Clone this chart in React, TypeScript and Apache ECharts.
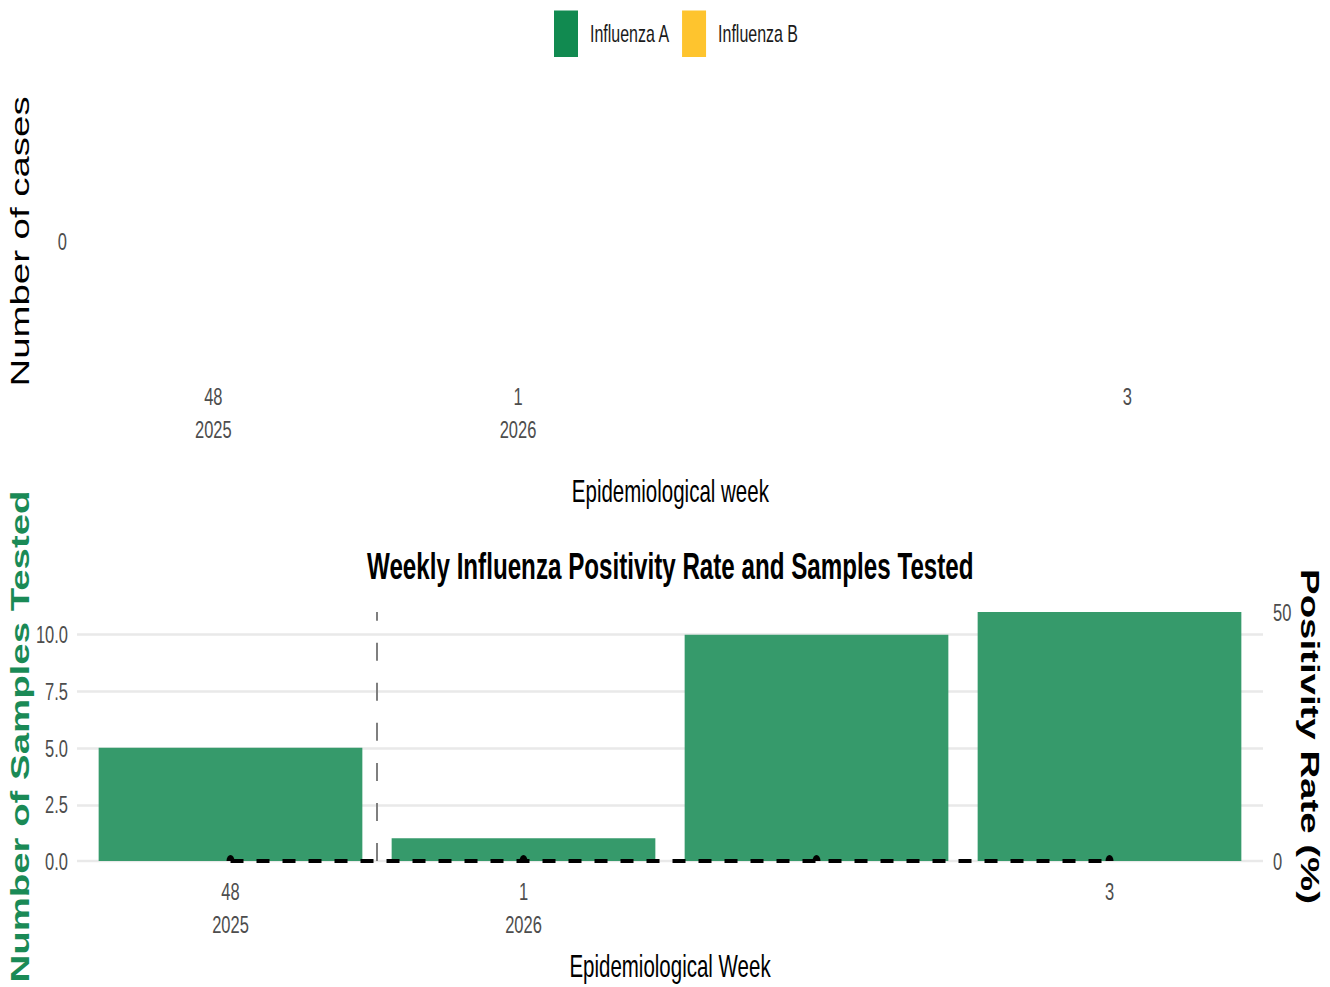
import React, { useEffect, useRef } from "react";
import * as echarts from "echarts";

const weeks = ["48", "1", "2", "3"];
const tickLabels = ["48\n2025", "1\n2026", "", "3"];
const influenzaA = [0, 0, 0, 0];
const influenzaB = [0, 0, 0, 0];
const samplesTested = [5, 1, 10, 11];
const positivityRate = [0, 0, 0, 0];
const seasonBreakAt = 0.5;

const FONT = "'Liberation Sans', Arial, Helvetica, sans-serif";
const TICK = "#4d4d4d";

export default function App() {
  const ref = useRef<HTMLDivElement>(null);
  useEffect(() => {
    document.body.style.margin = "0";
    const chart = echarts.init(ref.current!, null, { renderer: "svg" });
    const tickStyle = { color: TICK, fontSize: 16.5, fontFamily: FONT };
    const hiddenAxis = {
      show: false,
      axisLine: { show: false },
      axisTick: { show: false },
      axisLabel: { show: false },
      splitLine: { show: false },
    };
    const gridBase = { outerBoundsMode: "none", containLabel: false };
    chart.setOption({
      animation: false,
      textStyle: { fontFamily: FONT },
      legend: {
        data: ["Influenza A", "Influenza B"],
        left: 554,
        top: 7,
        padding: 0,
        icon: "rect",
        itemWidth: 24,
        itemHeight: 31,
        itemGap: 12,
        textStyle: { fontSize: 16, color: "#1a1a1a", fontFamily: FONT, padding: [0, 0, 0, 7] },
      },
      title: {
        text: "Weekly Influenza Positivity Rate and Samples Tested",
        left: 367,
        top: 366,
        padding: 0,
        textStyle: { fontSize: 24.2, fontWeight: "bold", color: "#000", fontFamily: FONT },
      },
      grid: [
        { ...gridBase, left: 61, width: 1218.7, top: 70, height: 182 },
        { ...gridBase, left: 84, width: 1172, top: 408, height: 166 },
        { ...gridBase, left: 77, width: 1186, top: 408, height: 166 },
      ],
      xAxis: [
        {
          type: "category",
          gridIndex: 0,
          data: weeks,
          boundaryGap: true,
          axisLine: { show: false },
          axisTick: { show: false },
          axisLabel: {
            ...tickStyle,
            lineHeight: 22,
            margin: 1,
            interval: 0,
            formatter: (_v: string, i: number) => tickLabels[i],
          },
          name: "Epidemiological week",
          nameLocation: "middle",
          nameGap: 65,
          nameMoveOverlap: false,
          nameTextStyle: { fontSize: 20.5, color: "#000", fontFamily: FONT },
        },
        {
          type: "category",
          gridIndex: 1,
          data: weeks,
          boundaryGap: true,
          axisLine: { show: false },
          axisTick: { show: false },
          splitLine: { show: false },
          axisLabel: {
            ...tickStyle,
            lineHeight: 22,
            margin: 9,
            interval: 0,
            formatter: (_v: string, i: number) => tickLabels[i],
          },
          name: "Epidemiological Week",
          nameLocation: "middle",
          nameGap: 60,
          nameMoveOverlap: false,
          nameTextStyle: { fontSize: 20.5, color: "#000", fontFamily: FONT },
        },
        { type: "value", gridIndex: 1, min: -0.5, max: 3.5, ...hiddenAxis },
        { type: "value", gridIndex: 2, min: 0, max: 1, ...hiddenAxis },
      ],
      yAxis: [
        {
          type: "value",
          gridIndex: 0,
          min: -1,
          max: 1,
          interval: 1,
          axisLine: { show: false },
          axisTick: { show: false },
          splitLine: { show: false },
          axisLabel: {
            ...tickStyle,
            margin: -6,
            formatter: (v: number) => (v === 0 ? "0" : ""),
          },
          name: "Number of cases",
          nameLocation: "middle",
          nameGap: 28,
          nameMoveOverlap: false,
          nameTextStyle: { fontSize: 25.6, color: "#000", fontFamily: FONT },
        },
        {
          type: "value",
          gridIndex: 1,
          min: 0,
          max: 11,
          interval: 2.5,
          axisLine: { show: false },
          axisTick: { show: false },
          splitLine: { show: false },
          axisLabel: {
            ...tickStyle,
            margin: 16,
            showMaxLabel: false,
            formatter: (v: number) => v.toFixed(1),
          },
          name: "Number of Samples Tested",
          nameLocation: "middle",
          nameGap: 51,
          nameMoveOverlap: false,
          nameTextStyle: { fontSize: 25.6, fontWeight: "bold", color: "#1a8a56", fontFamily: FONT },
        },
        {
          type: "value",
          gridIndex: 1,
          position: "right",
          min: 0,
          max: 50,
          interval: 50,
          axisLine: { show: false },
          axisTick: { show: false },
          splitLine: { show: false },
          axisLabel: { ...tickStyle, margin: 17 },
          name: "Positivity Rate (%)",
          nameLocation: "middle",
          nameRotate: -90,
          nameGap: 41,
          nameMoveOverlap: false,
          nameTextStyle: { fontSize: 25.6, fontWeight: "bold", color: "#000", fontFamily: FONT },
        },
        {
          type: "value",
          gridIndex: 2,
          min: 0,
          max: 11,
          interval: 2.5,
          axisLine: { show: false },
          axisTick: { show: false },
          axisLabel: { show: false },
          splitLine: { show: true, showMaxLine: false, lineStyle: { color: "#e9e9e9", width: 1.6 } },
        },
      ],
      series: [
        {
          name: "Influenza A",
          type: "bar",
          xAxisIndex: 0,
          yAxisIndex: 0,
          stack: "cases",
          data: influenzaA,
          itemStyle: { color: "#118a50" },
        },
        {
          name: "Influenza B",
          type: "bar",
          xAxisIndex: 0,
          yAxisIndex: 0,
          stack: "cases",
          data: influenzaB,
          itemStyle: { color: "#fec42e" },
        },
        {
          name: "Samples Tested",
          type: "bar",
          xAxisIndex: 1,
          yAxisIndex: 1,
          barCategoryGap: "10%",
          data: samplesTested,
          itemStyle: { color: "#369a6b" },
          z: 3,
        },
        {
          name: "Positivity Rate",
          type: "line",
          xAxisIndex: 2,
          yAxisIndex: 2,
          clip: false,
          data: positivityRate.map((v, i) => [i, v]),
          lineStyle: { color: "#000", width: 2.6, type: [13, 13] },
          symbol: "path://M0,10 A10,10 0 0 1 20,10 Z",
          symbolSize: [8, 4],
          symbolOffset: [0, -2],
          itemStyle: { color: "#000" },
          z: 5,
          markLine: {
            silent: true,
            symbol: "none",
            label: { show: false },
            lineStyle: { type: [12, 14.7], color: "#7f7f7f", width: 2 },
            data: [{ xAxis: seasonBreakAt }],
          },
        },
      ],
    });
    return () => chart.dispose();
  }, []);
  return (
    <div style={{ width: 1330, height: 987, overflow: "hidden", position: "relative" }}>
      <div
        ref={ref}
        style={{
          width: 1330,
          height: 658,
          transform: "scaleY(1.5)",
          transformOrigin: "0 0",
        }}
      />
    </div>
  );
}
